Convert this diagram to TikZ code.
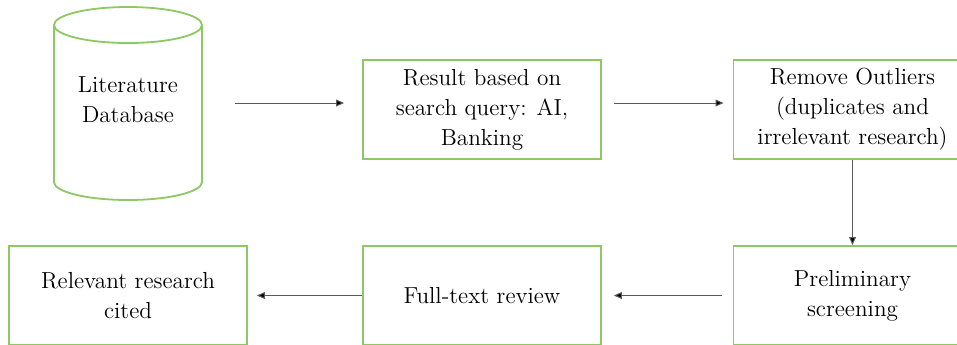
\documentclass[tikz,border=0pt]{standalone}
\usepackage{xcolor}
\usetikzlibrary{positioning,arrows.meta}
\definecolor{boxgreen}{RGB}{140,200,100}
\definecolor{flowgray}{RGB}{90,90,90}

\begin{document}
\begin{tikzpicture}[x=0.5pt,y=-0.5pt,
  stepbox/.style={draw=boxgreen, line width=0.9pt, minimum width=119pt,
    minimum height=49.5pt, align=center, inner sep=0pt},
  txt/.style={font=\fontsize{11.6pt}{15pt}\selectfont, text=black},
  flow/.style={draw=flowgray, line width=0.5pt,
    -{Triangle[length=4pt,width=3.4pt,fill=black]}}]

\useasboundingbox (0,0) rectangle (957,344);
\clip (0,0) rectangle (957,344);

% Database cylinder
\draw[boxgreen, line width=0.9pt, fill=white]
  (54,25) -- (54,182) arc[start angle=180, end angle=0, x radius=74, y radius=18]
  -- (202,25);
\draw[boxgreen, line width=0.9pt] (128,25) ellipse[x radius=74, y radius=18];
\node[txt, align=center, minimum width=74pt] (db) at (128,100) {Literature\\Database};
\coordinate (dbR) at (202,103);

% Top row
\node[stepbox, txt] (res) at (482,109.5) {Result based on\\search query: AI,\\Banking};
\node[stepbox, txt] (out) at (852.5,109.5) {Remove Outliers\\(duplicates and\\irrelevant research)};

% Bottom row
\node[stepbox, txt] (cite) at (128,295.5) {Relevant research\\cited};
\node[stepbox, txt] (full) at (482,295.5) {Full-text review};
\node[stepbox, txt] (pre) at (852.5,295.5) {Preliminary\\screening};

% Arrows
\draw[flow, shorten <=16.5pt, shorten >=9pt] (dbR) -- (dbR -| res.west);
\draw[flow, shorten <=6pt, shorten >=4.5pt] (res.east |- dbR) -- (out.west |- dbR);
\draw[flow] (out.south) -- (pre.north);
\draw[flow, shorten <=5.5pt, shorten >=6pt] (pre.west) -- (full.east);
\draw[flow, shorten >=4.5pt] (full.west) -- (cite.east);

\end{tikzpicture}
\end{document}
